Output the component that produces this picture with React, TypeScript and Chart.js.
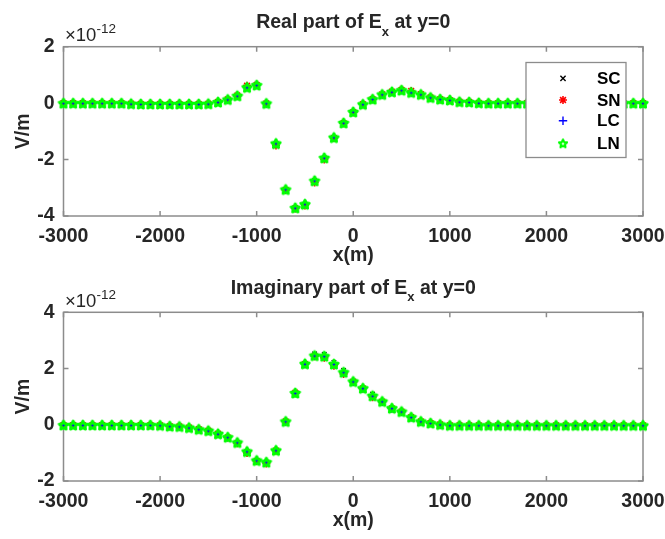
import React, { useEffect, useRef } from 'react';
import { Chart, registerables } from 'chart.js';

Chart.register(...registerables);

// x positions (m)
const xPositions = [
  -3000, -2900, -2800, -2700, -2600, -2500, -2400, -2300, -2200, -2100,
  -2000, -1900, -1800, -1700, -1600, -1500, -1400, -1300, -1200, -1100,
  -1000, -900, -800, -700, -600, -500, -400, -300, -200, -100,
  0, 100, 200, 300, 400, 500, 600, 700, 800, 900,
  1000, 1100, 1200, 1300, 1400, 1500, 1600, 1700, 1800, 1900,
  2000, 2100, 2200, 2300, 2400, 2500, 2600, 2700, 2800, 2900, 3000,
];

// Real part of Ex (units of 1e-12 V/m)
const realSC = [
  0.00, 0.00, 0.00, 0.00, 0.00, 0.00, 0.00, -0.02, -0.03, -0.03,
  -0.03, -0.03, -0.03, -0.03, -0.03, -0.02, 0.04, 0.13, 0.26, 0.56,
  0.64, -0.01, -1.43, -3.06, -3.71, -3.58, -2.75, -1.94, -1.22, -0.70,
  -0.31, -0.04, 0.14, 0.31, 0.40, 0.46, 0.38, 0.31, 0.20, 0.14,
  0.11, 0.05, 0.04, 0.01, 0.00, 0.00, 0.00, 0.00, 0.00, 0.00,
  0.00, 0.00, 0.00, 0.00, 0.00, 0.00, 0.00, 0.00, 0.00, 0.00, 0.00,
];
const realSN = [
  0.00, 0.00, 0.00, 0.00, 0.00, 0.00, 0.00, -0.02, -0.03, -0.03,
  -0.03, -0.03, -0.03, -0.03, -0.03, -0.02, 0.04, 0.13, 0.27, 0.62,
  0.65, -0.01, -1.50, -3.08, -3.73, -3.63, -2.81, -2.00, -1.24, -0.71,
  -0.32, -0.04, 0.14, 0.31, 0.41, 0.47, 0.43, 0.32, 0.20, 0.14,
  0.11, 0.05, 0.04, 0.01, 0.00, 0.00, 0.00, 0.00, 0.00, 0.00,
  0.00, 0.00, 0.00, 0.00, 0.00, 0.00, 0.00, 0.00, 0.00, 0.00, 0.00,
];
const realLC = [
  0.00, 0.00, 0.00, 0.00, 0.00, 0.00, 0.00, -0.02, -0.03, -0.03,
  -0.03, -0.03, -0.03, -0.03, -0.03, -0.02, 0.04, 0.13, 0.26, 0.55,
  0.64, -0.01, -1.42, -3.05, -3.70, -3.57, -2.74, -1.93, -1.21, -0.70,
  -0.31, -0.04, 0.14, 0.31, 0.40, 0.46, 0.37, 0.31, 0.20, 0.14,
  0.11, 0.05, 0.04, 0.01, 0.00, 0.00, 0.00, 0.00, 0.00, 0.00,
  0.00, 0.00, 0.00, 0.00, 0.00, 0.00, 0.00, 0.00, 0.00, 0.00, 0.00,
];
const realLN = [
  0.00, 0.00, 0.00, 0.00, 0.00, 0.00, 0.00, -0.02, -0.03, -0.03,
  -0.03, -0.03, -0.03, -0.03, -0.03, -0.02, 0.04, 0.13, 0.26, 0.56,
  0.64, -0.01, -1.43, -3.06, -3.71, -3.58, -2.75, -1.94, -1.22, -0.70,
  -0.31, -0.04, 0.14, 0.31, 0.40, 0.46, 0.38, 0.31, 0.20, 0.14,
  0.11, 0.05, 0.04, 0.01, 0.00, 0.00, 0.00, 0.00, 0.00, 0.00,
  0.00, 0.00, 0.00, 0.00, 0.00, 0.00, 0.00, 0.00, 0.00, 0.00, 0.00,
];

// Imaginary part of Ex (units of 1e-12 V/m)
const imagSC = [
  -0.01, -0.01, -0.01, -0.01, -0.01, -0.01, -0.01, -0.01, -0.01, -0.01,
  -0.02, -0.05, -0.06, -0.10, -0.16, -0.21, -0.32, -0.44, -0.63, -0.95,
  -1.27, -1.33, -0.91, 0.12, 1.13, 2.17, 2.52, 2.50, 2.22, 1.93,
  1.54, 1.30, 1.09, 0.83, 0.59, 0.47, 0.27, 0.12, 0.06, 0.01,
  -0.02, -0.02, -0.02, -0.02, -0.02, -0.02, -0.02, -0.02, -0.02, -0.02,
  -0.02, -0.02, -0.02, -0.02, -0.02, -0.02, -0.02, -0.02, -0.02, -0.02, -0.02,
];
const imagSN = [
  -0.01, -0.01, -0.01, -0.01, -0.01, -0.01, -0.01, -0.01, -0.01, -0.01,
  -0.02, -0.05, -0.06, -0.10, -0.16, -0.21, -0.32, -0.45, -0.66, -1.00,
  -1.29, -1.38, -0.92, 0.12, 1.14, 2.16, 2.44, 2.38, 2.10, 1.81,
  1.53, 1.29, 0.98, 0.82, 0.58, 0.47, 0.27, 0.12, 0.06, 0.01,
  -0.02, -0.02, -0.02, -0.02, -0.02, -0.02, -0.02, -0.02, -0.02, -0.02,
  -0.02, -0.02, -0.02, -0.02, -0.02, -0.02, -0.02, -0.02, -0.02, -0.02, -0.02,
];
const imagLC = [
  -0.01, -0.01, -0.01, -0.01, -0.01, -0.01, -0.01, -0.01, -0.01, -0.01,
  -0.02, -0.05, -0.06, -0.10, -0.16, -0.21, -0.32, -0.44, -0.62, -0.94,
  -1.26, -1.32, -0.90, 0.12, 1.12, 2.15, 2.45, 2.43, 2.15, 1.86,
  1.53, 1.29, 1.02, 0.82, 0.58, 0.46, 0.27, 0.12, 0.06, 0.01,
  -0.02, -0.02, -0.02, -0.02, -0.02, -0.02, -0.02, -0.02, -0.02, -0.02,
  -0.02, -0.02, -0.02, -0.02, -0.02, -0.02, -0.02, -0.02, -0.02, -0.02, -0.02,
];
const imagLN = [
  -0.01, -0.01, -0.01, -0.01, -0.01, -0.01, -0.01, -0.01, -0.01, -0.01,
  -0.02, -0.05, -0.06, -0.10, -0.16, -0.21, -0.32, -0.44, -0.63, -0.95,
  -1.27, -1.33, -0.91, 0.12, 1.13, 2.17, 2.46, 2.44, 2.16, 1.87,
  1.54, 1.30, 1.03, 0.83, 0.59, 0.47, 0.27, 0.12, 0.06, 0.01,
  -0.02, -0.02, -0.02, -0.02, -0.02, -0.02, -0.02, -0.02, -0.02, -0.02,
  -0.02, -0.02, -0.02, -0.02, -0.02, -0.02, -0.02, -0.02, -0.02, -0.02, -0.02,
];

const seriesNames = ['SC', 'SN', 'LC', 'LN'];
const xTickStep = 1000;
const yTickStep = 2;

const FONT = '"Liberation Sans", Arial, Helvetica, sans-serif';
const TEXT = '#262626';
const AXIS = '#8c8c8c';

function makePentagram(color: string, R: number, r: number, lw: number) {
  const size = 14;
  const c = document.createElement('canvas');
  c.width = size;
  c.height = size;
  const g = c.getContext('2d')!;
  g.translate(size / 2, size / 2 + 0.5);
  g.beginPath();
  for (let i = 0; i < 10; i++) {
    const rad = i % 2 === 0 ? R : r;
    const a = -Math.PI / 2 + (i * Math.PI) / 5;
    g.lineTo(rad * Math.cos(a), rad * Math.sin(a));
  }
  g.closePath();
  g.strokeStyle = color;
  g.lineWidth = lw;
  g.lineJoin = 'round';
  g.stroke();
  return c;
}

type PanelProps = {
  top: number;
  height: number;
  boxTop: number;
  boxBottom: number;
  yMin: number;
  yMax: number;
  titleMain: string;
  sc: number[];
  sn: number[];
  lc: number[];
  ln: number[];
  showLegend: boolean;
};

function drawMarker(ctx: CanvasRenderingContext2D, kind: string, x: number, y: number, star: HTMLCanvasElement) {
  ctx.save();
  ctx.beginPath();
  if (kind === 'SC') {
    const d = 2.6;
    ctx.moveTo(x - d, y - d); ctx.lineTo(x + d, y + d);
    ctx.moveTo(x - d, y + d); ctx.lineTo(x + d, y - d);
    ctx.strokeStyle = '#000'; ctx.lineWidth = 1.4; ctx.stroke();
  } else if (kind === 'SN') {
    const r = 4; const d = 2.9;
    ctx.moveTo(x - r, y); ctx.lineTo(x + r, y);
    ctx.moveTo(x, y - r); ctx.lineTo(x, y + r);
    ctx.moveTo(x - d, y - d); ctx.lineTo(x + d, y + d);
    ctx.moveTo(x - d, y + d); ctx.lineTo(x + d, y - d);
    ctx.strokeStyle = '#ff0000'; ctx.lineWidth = 1.6; ctx.stroke();
  } else if (kind === 'LC') {
    const r = 4.2;
    ctx.moveTo(x - r, y); ctx.lineTo(x + r, y);
    ctx.moveTo(x, y - r); ctx.lineTo(x, y + r);
    ctx.strokeStyle = '#0000ff'; ctx.lineWidth = 1.4; ctx.stroke();
  } else {
    ctx.drawImage(star, x - star.width / 2, y - star.height / 2);
  }
  ctx.restore();
}

function Panel(p: PanelProps) {
  const ref = useRef<HTMLCanvasElement | null>(null);

  useEffect(() => {
    if (!ref.current) return;
    const star = makePentagram('#00ff00', 4.5, 2.3, 2.8);
    const legendStar = makePentagram('#00ff00', 4.2, 2.0, 2.2);
    const pts = (arr: number[]) => xPositions.map((x, i) => ({ x, y: arr[i] }));

    const overlay = {
      id: 'overlay' + p.top,
      beforeDatasetsDraw(chart: any) {
        const ctx: CanvasRenderingContext2D = chart.ctx;
        const { left, right, top, bottom } = chart.chartArea;
        ctx.save();
        ctx.strokeStyle = AXIS;
        ctx.lineWidth = 1.5;
        ctx.strokeRect(left, top, right - left, bottom - top);
        const tl = 5;
        ctx.beginPath();
        chart.scales.x.ticks.forEach((t: any) => {
          const px = chart.scales.x.getPixelForValue(t.value);
          ctx.moveTo(px, bottom); ctx.lineTo(px, bottom - tl);
          ctx.moveTo(px, top); ctx.lineTo(px, top + tl);
        });
        chart.scales.y.ticks.forEach((t: any) => {
          const py = chart.scales.y.getPixelForValue(t.value);
          ctx.moveTo(left, py); ctx.lineTo(left + tl, py);
          ctx.moveTo(right, py); ctx.lineTo(right - tl, py);
        });
        ctx.stroke();
        ctx.restore();
      },
      afterDatasetsDraw(chart: any) {
        if (!p.showLegend) return;
        const ctx: CanvasRenderingContext2D = chart.ctx;
        ctx.save();
        const bx = 526, by = 62.5, bw = 100, bh = 95;
        ctx.fillStyle = '#ffffff';
        ctx.fillRect(bx, by, bw, bh);
        ctx.strokeStyle = AXIS;
        ctx.lineWidth = 1.3;
        ctx.strokeRect(bx, by, bw, bh);
        const rows = [78.3, 100, 120.7, 143.3];
        ctx.font = `bold 17px ${FONT}`;
        ctx.textAlign = 'left';
        ctx.textBaseline = 'middle';
        seriesNames.forEach((name, i) => {
          drawMarker(ctx, name, 563, rows[i], legendStar);
          ctx.fillStyle = '#000';
          ctx.fillText(name, 597, rows[i] + 1);
        });
        ctx.restore();
      },
      afterDraw(chart: any) {
        const ctx: CanvasRenderingContext2D = chart.ctx;
        const { left, right, top, bottom } = chart.chartArea;
        const cx = (left + right) / 2;
        ctx.save();
        ctx.fillStyle = TEXT;
        // title with subscript
        const mainFont = `bold 19.5px ${FONT}`;
        const subFont = `bold 13px ${FONT}`;
        const a = p.titleMain;
        const b = 'x';
        const c = ' at y=0';
        ctx.font = mainFont;
        const wa = ctx.measureText(a).width;
        const wc = ctx.measureText(c).width;
        ctx.font = subFont;
        const wb = ctx.measureText(b).width;
        const total = wa + wb + wc;
        const x0 = cx - total / 2;
        const base = top - 18.4;
        ctx.textBaseline = 'alphabetic';
        ctx.textAlign = 'left';
        ctx.font = mainFont;
        ctx.fillText(a, x0, base);
        ctx.font = subFont;
        ctx.fillText(b, x0 + wa, base + 7.5);
        ctx.font = mainFont;
        ctx.fillText(c, x0 + wa + wb, base);
        // exponent
        ctx.font = `18.5px ${FONT}`;
        ctx.fillText('\u00d710', left + 1.5, top - 5.5);
        const we = ctx.measureText('\u00d710').width;
        ctx.font = `13.5px ${FONT}`;
        ctx.fillText('-12', left + 1.5 + we, top - 13.5);
        // x title
        ctx.font = `bold 19.5px ${FONT}`;
        ctx.textAlign = 'center';
        ctx.fillText('x(m)', cx, bottom + 45);
        // y title
        ctx.save();
        ctx.translate(29, (top + bottom) / 2);
        ctx.rotate(-Math.PI / 2);
        ctx.textAlign = 'center';
        ctx.textBaseline = 'alphabetic';
        ctx.fillText('V/m', 0, 0);
        ctx.restore();
        ctx.restore();
      },
    };

    const chart = new Chart(ref.current, {
      type: 'scatter',
      data: {
        datasets: [
          {
            label: 'SC', data: pts(p.sc), pointStyle: 'crossRot', pointRadius: 3.2,
            borderColor: '#000000', backgroundColor: '#000000', pointBorderWidth: 1.3,
            showLine: false, clip: false, order: 4,
          } as any,
          {
            label: 'SN', data: pts(p.sn), pointStyle: 'star', pointRadius: 4,
            borderColor: '#ff0000', backgroundColor: '#ff0000', pointBorderWidth: 1.6,
            showLine: false, clip: false, order: 3,
          } as any,
          {
            label: 'LC', data: pts(p.lc), pointStyle: 'cross', pointRadius: 4,
            borderColor: '#0000ff', backgroundColor: '#0000ff', pointBorderWidth: 1.4,
            showLine: false, clip: false, order: 2,
          } as any,
          {
            label: 'LN', data: pts(p.ln), pointStyle: star, pointRadius: 5,
            borderColor: '#00ff00', backgroundColor: '#00ff00',
            showLine: false, clip: false, order: 1,
          } as any,
        ],
      },
      options: {
        animation: false,
        responsive: false,
        maintainAspectRatio: false,
        events: [],
        layout: { padding: { top: p.boxTop, right: 22, left: 0, bottom: 0 } },
        plugins: { legend: { display: false }, tooltip: { enabled: false }, title: { display: false } },
        scales: {
          x: {
            type: 'linear',
            position: 'bottom',
            min: -3000,
            max: 3000,
            grid: { display: false, drawTicks: false },
            border: { display: false },
            ticks: {
              stepSize: xTickStep,
              autoSkip: false,
              maxRotation: 0,
              padding: 9,
              color: TEXT,
              font: { family: FONT, size: 19.5, weight: 'bold' },
              callback: (v: any) => String(v),
            },
            afterFit: (s: any) => {
              s.height = p.height - p.boxBottom;
              s.paddingLeft = 0;
              s.paddingRight = 0;
            },
          },
          y: {
            type: 'linear',
            min: p.yMin,
            max: p.yMax,
            grid: { display: false, drawTicks: false },
            border: { display: false },
            ticks: {
              stepSize: yTickStep,
              padding: 9,
              color: TEXT,
              font: { family: FONT, size: 19.5, weight: 'bold' },
              callback: (v: any) => String(v),
            },
            afterFit: (s: any) => {
              s.width = 63.5;
              s.paddingTop = 0;
              s.paddingBottom = 0;
            },
          },
        },
      } as any,
      plugins: [overlay],
    });
    return () => chart.destroy();
  }, []);

  return (
    <canvas
      ref={ref}
      width={665}
      height={p.height}
      style={{ position: 'absolute', left: 0, top: p.top, width: 665, height: p.height }}
    />
  );
}

export default function App() {
  return (
    <div style={{ position: 'fixed', left: 0, top: 0, width: 665, height: 539, background: '#ffffff' }}>
      <Panel
        top={0}
        height={270}
        boxTop={46.7}
        boxBottom={216}
        yMin={-4}
        yMax={2}
        titleMain="Real part of E"
        sc={realSC}
        sn={realSN}
        lc={realLC}
        ln={realLN}
        showLegend={true}
      />
      <Panel
        top={270}
        height={269}
        boxTop={42.3}
        boxBottom={211}
        yMin={-2}
        yMax={4}
        titleMain="Imaginary part of E"
        sc={imagSC}
        sn={imagSN}
        lc={imagLC}
        ln={imagLN}
        showLegend={false}
      />
    </div>
  );
}
